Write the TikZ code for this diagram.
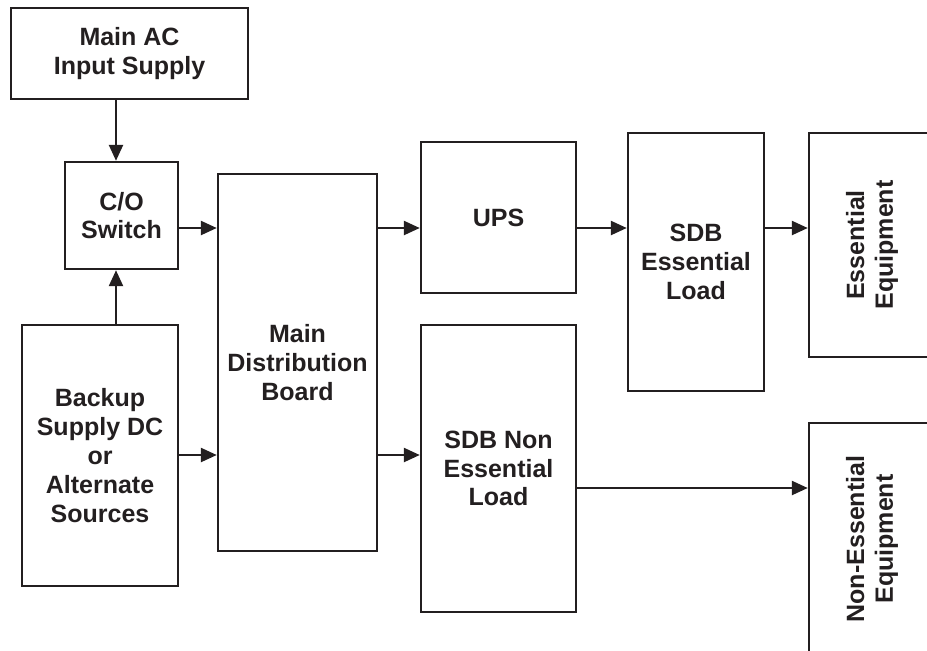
\documentclass[tikz,border=0pt]{standalone}
\usepackage{fontspec}
\setmainfont{Liberation Sans}
\usetikzlibrary{calc, positioning}
\usetikzlibrary{arrows.meta}

\definecolor{linegray}{HTML}{231F20}

\tikzset{
  blk/.style={draw=linegray, line width=1.2pt, align=center, inner sep=2pt,
    text=linegray, font=\fontsize{12.5}{14.4}\selectfont\bfseries},
  bsize/.style 2 args={minimum width=#1*0.5pt, minimum height=#2*0.5pt},
  feed/.style={draw=linegray, line width=1.2pt,
    -{Triangle[length=8pt, width=7pt]}},
}

\begin{document}
\begin{tikzpicture}[x=0.5pt, y=-0.5pt]
\useasboundingbox (0,0) rectangle (927,650);

% supply side
\node[blk, bsize={237}{91}]  (acin)   at (129.5,53.5)  {Main AC\\Input Supply};
\node[blk, bsize={113}{107}] (co)     at (121.5,215.5) {C/O\\Switch};
\node[blk, bsize={156}{261}] (backup) at (100,455.5)
  {Backup\\Supply DC\\or\\Alternate\\Sources};
\node[blk, bsize={159}{377}] (mdb)    at (297.5,362.5) {Main\\Distribution\\Board};

% load side
\node[blk, bsize={155}{151}] (ups)  at (498.5,217.5) {UPS};
\node[blk, bsize={136}{258}] (sdbe) at (696,262)     {SDB\\Essential\\Load};
\node[blk, bsize={155}{287}] (sdbn) at (498.5,468.5) {SDB Non\\Essential\\Load};
\node[blk, rotate=90, bsize={224}{126}] (eqe) at (872,245) {Essential\\Equipment};
\node[blk, rotate=90, bsize={232}{126}] (eqn) at (872,539) {Non-Essential\\Equipment};

\coordinate (colA) at (116,0);
\coordinate (rowA) at (0,228);
\coordinate (rowB) at (0,455);
\coordinate (rowC) at (0,488);

\draw[feed] (acin.south -| colA) -- (co.north -| colA);
\draw[feed] (backup.north -| colA) -- (co.south -| colA);
\draw[feed] (co.east |- rowA) -- (mdb.west |- rowA);
\draw[feed] (backup.east |- rowB) -- (mdb.west |- rowB);
\draw[feed] (mdb.east |- rowA) -- (ups.west |- rowA);
\draw[feed] (mdb.east |- rowB) -- (sdbn.west |- rowB);
\draw[feed] (ups.east |- rowA) -- (sdbe.west |- rowA);
\draw[feed] (sdbe.east |- rowA) -- (eqe.north |- rowA);
\draw[feed] (sdbn.east |- rowC) -- (eqn.north |- rowC);
\end{tikzpicture}
\end{document}
